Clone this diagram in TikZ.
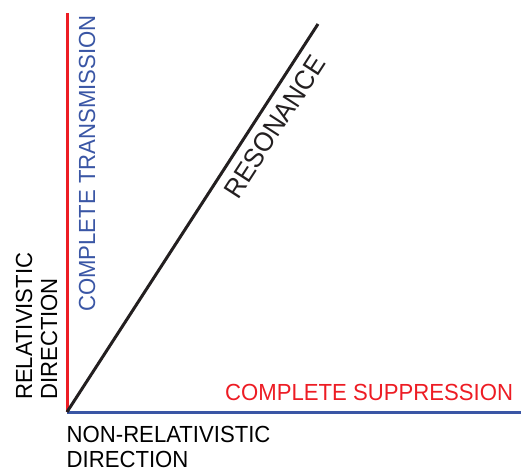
\documentclass[tikz,border=0pt]{standalone}
\usepackage{fontspec}
\setmainfont{Liberation Sans}
\newfontfamily\labfont[FakeStretch=0.95]{Liberation Sans}
\definecolor{lred}{HTML}{ED1C24}
\definecolor{lblue}{HTML}{3A56A5}
\definecolor{lblack}{HTML}{231F20}
\begin{document}
\begin{tikzpicture}[x=1pt,y=1pt,
  lab/.style={inner sep=0pt, font=\labfont\fontsize{23.3}{25}\selectfont},
  axis/.style={line width=3pt}]
\useasboundingbox (0,0) rectangle (521,468);
\coordinate (O) at (67,56);
\coordinate (ytop) at (67,455);
\coordinate (xend) at (521,56);
\coordinate (rtop) at (318,444);
\draw[axis, lred] (O) -- (ytop);
\draw[axis, lblue] (O) -- (xend);
\draw[axis, lblack] (O) -- (rtop);
\node[lab, text=lblue, rotate=90, anchor=base west] (trans) at (95,156) {COMPLETE TRANSMISSION};
\node[lab, text=lred, anchor=base west] (supp) at (225,67) {COMPLETE SUPPRESSION};
\node[lab, text=lblack, font=\labfont\fontsize{27}{30}\selectfont, rotate=57.1, anchor=base] (reso) at (282.3,336.2) {RESONANCE};
\node[lab, text=black, rotate=90, anchor=base west, align=left] (rel) at (57,68) {RELATIVISTIC\\DIRECTION};
\node[lab, text=black, anchor=base west, align=left] (nonrel) at (66.5,0.5) {NON-RELATIVISTIC\\DIRECTION};
\end{tikzpicture}
\end{document}
